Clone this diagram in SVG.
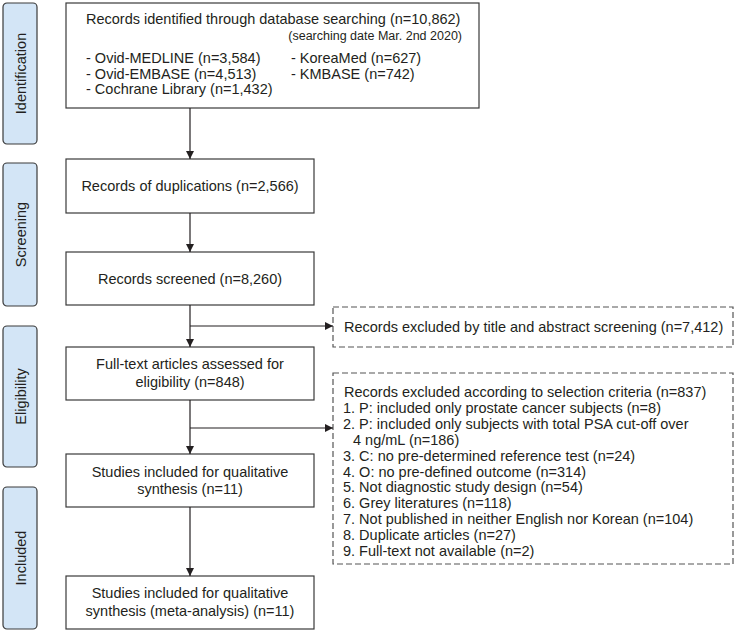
<svg xmlns="http://www.w3.org/2000/svg" width="735" height="632" viewBox="0 0 735 632">
<defs>
<marker id="ah" markerWidth="8" markerHeight="8" refX="8" refY="4" orient="auto" markerUnits="userSpaceOnUse">
<path d="M0,0 L8,4 L0,8 Z" fill="#231f20"/>
</marker>
<style>
text{font-family:"Liberation Sans",Arial,sans-serif;font-size:14.5px;fill:#231f20}
.stage rect{fill:#d3e5f6;stroke:#3a3a3a;stroke-width:1.2}
.box{fill:#fff;stroke:#3a3a3a;stroke-width:1.2}
.dash{fill:#fff;stroke:#555;stroke-width:1.2;stroke-dasharray:6 3}
.c{text-anchor:middle}
.conn path{fill:none;stroke:#231f20;stroke-width:1.2}
</style>
</defs>
<rect width="735" height="632" fill="#fff"/>
<g id="stage-identification" class="stage"><rect x="3" y="3" width="34" height="141" rx="4"/><text class="c" transform="translate(25.5 73.5) rotate(-90)">Identification</text></g>
<g id="stage-screening" class="stage"><rect x="3" y="163" width="34" height="143" rx="4"/><text class="c" transform="translate(25.5 234.5) rotate(-90)">Screening</text></g>
<g id="stage-eligibility" class="stage"><rect x="3" y="326" width="34" height="141" rx="4"/><text class="c" transform="translate(25.5 396.5) rotate(-90)">Eligibility</text></g>
<g id="stage-included" class="stage"><rect x="3" y="487" width="34" height="142" rx="4"/><text class="c" transform="translate(25.5 558) rotate(-90)">Included</text></g>

<g id="n-identified"><rect class="box" x="66" y="3" width="413" height="105"/>
<text x="86" y="23.5">Records identified through database searching (n=10,862)</text>
<text x="462" y="39.5" style="font-size:12.5px;text-anchor:end">(searching date Mar. 2nd 2020)</text>
<text x="86" y="63">- Ovid-MEDLINE (n=3,584)</text>
<text x="86" y="78.7">- Ovid-EMBASE (n=4,513)</text>
<text x="86" y="94.4">- Cochrane Library (n=1,432)</text>
<text x="291" y="63">- KoreaMed (n=627)</text>
<text x="291" y="78.7">- KMBASE (n=742)</text>
</g>
<g id="n-duplications"><rect class="box" x="66" y="159" width="248" height="54"/><text class="c" x="190" y="191">Records of duplications (n=2,566)</text></g>
<g id="n-screened"><rect class="box" x="66" y="252" width="248" height="53"/><text class="c" x="190" y="283.5">Records screened (n=8,260)</text></g>
<g id="n-fulltext"><rect class="box" x="66" y="347" width="248" height="53"/><text class="c" x="190" y="369">Full-text articles assessed for</text><text class="c" x="190" y="387">eligibility (n=848)</text></g>
<g id="n-qualitative"><rect class="box" x="66" y="454" width="248" height="53"/><text class="c" x="190" y="477">Studies included for qualitative</text><text class="c" x="190" y="493.5">synthesis (n=11)</text></g>
<g id="n-meta"><rect class="box" x="66" y="576" width="248" height="53"/><text class="c" x="190" y="598">Studies included for qualitative</text><text class="c" x="190" y="616">synthesis (meta-analysis) (n=11)</text></g>
<g id="n-excluded-title"><rect class="dash" x="333" y="307" width="400" height="40"/><text x="344" y="332">Records excluded by title and abstract screening (n=7,412)</text></g>
<g id="n-excluded-criteria"><rect class="dash" x="333" y="373" width="400" height="191"/>
<text x="344" y="397">Records excluded according to selection criteria (n=837)</text>
<text x="343" y="412.9">1. P: included only prostate cancer subjects (n=8)</text>
<text x="343" y="428.8">2. P: included only subjects with total PSA cut-off over</text>
<text x="353" y="444.7">4 ng/mL (n=186)</text>
<text x="343" y="460.6">3. C: no pre-determined reference test (n=24)</text>
<text x="343" y="476.5">4. O: no pre-defined outcome (n=314)</text>
<text x="343" y="492.4">5. Not diagnostic study design (n=54)</text>
<text x="343" y="508.3">6. Grey literatures (n=118)</text>
<text x="343" y="524.2">7. Not published in neither English nor Korean (n=104)</text>
<text x="343" y="540.1">8. Duplicate articles (n=27)</text>
<text x="343" y="556">9. Full-text not available (n=2)</text>
</g>
<g id="connectors" class="conn">
<path d="M190,108 V159" marker-end="url(#ah)"/>
<path d="M190,213 V252" marker-end="url(#ah)"/>
<path d="M190,305 V347" marker-end="url(#ah)"/>
<path d="M190,326 H333" marker-end="url(#ah)"/>
<path d="M190,400 V454" marker-end="url(#ah)"/>
<path d="M190,428 H333" marker-end="url(#ah)"/>
<path d="M190,507 V576" marker-end="url(#ah)"/>
</g>
</svg>
